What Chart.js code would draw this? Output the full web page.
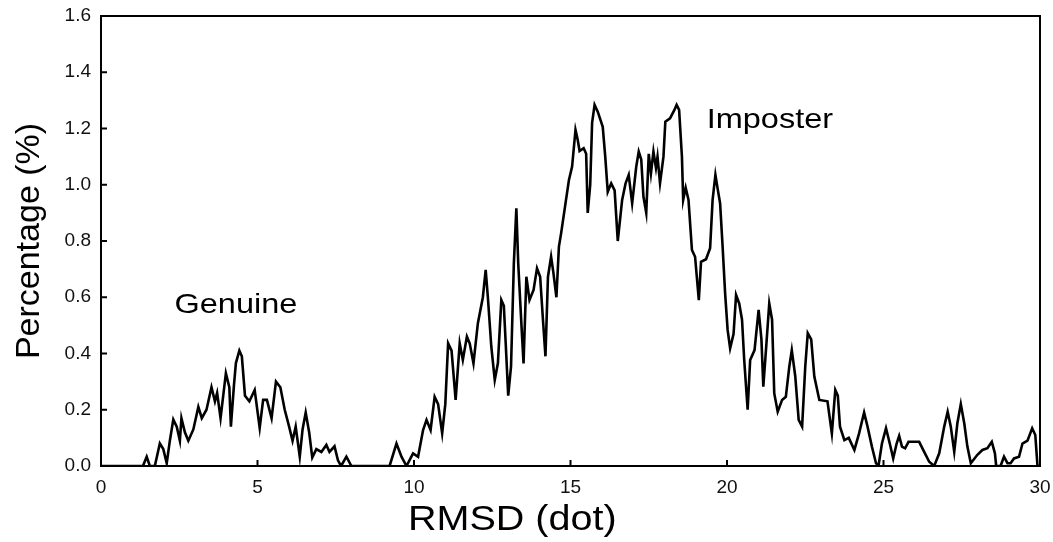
<!DOCTYPE html>
<html>
<head>
<meta charset="utf-8">
<script src="https://cdn.jsdelivr.net/npm/chart.js@4/dist/chart.umd.min.js"></script>
<style>
  html, body { margin: 0; padding: 0; background: #fff; }
  #wrap { width: 1053px; height: 542px; }
</style>
</head>
<body>
<div id="wrap"><canvas id="rmsd-chart"></canvas></div>
<script>
// RMSD (dot) values and percentage
const genuineX = [
    0, 1.34, 1.46, 1.56, 1.72, 1.88, 1.99, 2.1, 2.2, 2.31,
    2.42, 2.52, 2.57, 2.68, 2.79, 2.95, 3.11, 3.22, 3.37, 3.53,
    3.64, 3.71, 3.82, 3.99, 4.1, 4.15, 4.25, 4.31, 4.42, 4.5,
    4.6, 4.74, 4.91, 5.07, 5.18, 5.3, 5.45, 5.59, 5.73, 5.87,
    6.01, 6.12, 6.22, 6.35, 6.44, 6.54, 6.65, 6.75, 6.88, 7.04,
    7.2, 7.3, 7.46, 7.57, 7.67, 7.84, 8.0, 8.6
];
const genuineY = [
    0, 0, 0.033, 0, 0, 0.08, 0.06, 0.01, 0.09, 0.165,
    0.14, 0.09, 0.17, 0.12, 0.09, 0.13, 0.21, 0.17, 0.2, 0.28,
    0.23, 0.26, 0.17, 0.33, 0.28, 0.14, 0.29, 0.366, 0.41, 0.39,
    0.25, 0.23, 0.27, 0.135, 0.235, 0.235, 0.17, 0.3, 0.28, 0.2,
    0.14, 0.09, 0.14, 0.033, 0.13, 0.19, 0.12, 0.03, 0.06, 0.05,
    0.075, 0.05, 0.07, 0.02, 0, 0.033, 0, 0
];

const imposterX = [
    8.6, 9.22, 9.44, 9.6, 9.76, 9.97, 10.13, 10.29, 10.4, 10.53,
    10.66, 10.77, 10.9, 11.0, 11.09, 11.2, 11.33, 11.46, 11.56, 11.69,
    11.78, 11.9, 12.04, 12.2, 12.29, 12.36, 12.47, 12.58, 12.68, 12.79,
    12.87, 12.93, 13.01, 13.1, 13.19, 13.27, 13.33, 13.43, 13.5, 13.59,
    13.69, 13.82, 13.93, 14.03, 14.12, 14.2, 14.28, 14.38, 14.45, 14.55,
    14.63, 14.7, 14.84, 14.95, 15.05, 15.16, 15.23, 15.29, 15.42, 15.5,
    15.55, 15.63, 15.69, 15.77, 15.87, 16.03, 16.11, 16.19, 16.3, 16.41,
    16.51, 16.65, 16.76, 16.86, 16.97, 17.1, 17.18, 17.26, 17.33, 17.42,
    17.5, 17.57, 17.65, 17.73, 17.78, 17.86, 17.97, 18.03, 18.18, 18.32,
    18.39, 18.47, 18.56, 18.6, 18.68, 18.77, 18.88, 18.98, 19.1, 19.17,
    19.33, 19.46, 19.54, 19.63, 19.71, 19.78, 19.86, 19.94, 20.02, 20.1,
    20.21, 20.29, 20.39, 20.48, 20.55, 20.66, 20.74, 20.88, 21.01, 21.1,
    21.16, 21.25, 21.35, 21.44, 21.51, 21.62, 21.76, 21.88, 21.99, 22.07,
    22.18, 22.29, 22.4, 22.5, 22.58, 22.69, 22.79, 22.95, 23.21, 23.35,
    23.46, 23.54, 23.61, 23.75, 23.89, 24.07, 24.22, 24.38, 24.49, 24.63,
    24.76, 24.84, 24.95, 25.08, 25.2, 25.31, 25.42, 25.5, 25.59, 25.69,
    25.8, 26.14, 26.3, 26.46, 26.62, 26.78, 26.94, 27.05, 27.15, 27.26,
    27.36, 27.47, 27.58, 27.68, 27.79, 28.0, 28.16, 28.32, 28.46, 28.56,
    28.6, 28.74, 28.85, 28.96, 29.06, 29.17, 29.33, 29.44, 29.6, 29.75,
    29.85, 29.92, 30
];
const imposterY = [
    0, 0, 0.08, 0.033, 0, 0.045, 0.033, 0.128, 0.164, 0.128,
    0.246, 0.22, 0.116, 0.22, 0.436, 0.41, 0.235, 0.436, 0.377, 0.46,
    0.436, 0.365, 0.507, 0.6, 0.697, 0.6, 0.424, 0.306, 0.365, 0.59,
    0.57, 0.436, 0.25, 0.354, 0.72, 0.916, 0.72, 0.507, 0.365, 0.673,
    0.59, 0.626, 0.703, 0.673, 0.52, 0.39, 0.673, 0.744, 0.69, 0.6,
    0.78, 0.827, 0.934, 1.017, 1.064, 1.195, 1.16, 1.12, 1.13, 1.11,
    0.9, 1.0, 1.22, 1.284, 1.26, 1.206, 1.1, 0.975, 1.005, 0.98,
    0.8, 0.946, 1.005, 1.035, 0.934, 1.064, 1.118, 1.09, 0.958, 0.9,
    1.11, 1.04, 1.118, 1.06, 1.1, 1.005, 1.1, 1.224, 1.236, 1.266,
    1.284, 1.266, 1.1, 0.946, 0.99, 0.946, 0.768, 0.744, 0.59, 0.726,
    0.735, 0.774, 0.946, 1.035, 0.98, 0.934, 0.78, 0.614, 0.484, 0.418,
    0.47, 0.608, 0.578, 0.52, 0.377, 0.2, 0.377, 0.412, 0.555, 0.45,
    0.282, 0.42, 0.578, 0.52, 0.258, 0.193, 0.235, 0.246, 0.353, 0.412,
    0.32, 0.164, 0.14, 0.353, 0.472, 0.45, 0.318, 0.235, 0.23, 0.116,
    0.27, 0.25, 0.14, 0.092, 0.1, 0.057, 0.116, 0.19, 0.14, 0.069,
    0.01, 0, 0.08, 0.134, 0.08, 0.027, 0.08, 0.107, 0.069, 0.063,
    0.086, 0.086, 0.05, 0.015, 0, 0.045, 0.14, 0.193, 0.14, 0.05,
    0.152, 0.22, 0.152, 0.069, 0.01, 0.04, 0.057, 0.063, 0.086, 0.045,
    0, 0, 0.033, 0.01, 0.01, 0.027, 0.033, 0.08, 0.09, 0.134,
    0.11, 0, 0
];

// label positions in data units
const labels = [
    { text: 'Genuine', x: 4.31, y: 0.57 },
    { text: 'Imposter', x: 21.37, y: 1.23 }
];
const xTitle = 'RMSD (dot)';

const fontFamily = '"Liberation Sans", Arial, Helvetica, sans-serif';

function toPoints(xs, ys) {
    return xs.map((x, i) => ({ x: x, y: ys[i] }));
}

// text in the original is a little wider than Arial, so stretch it sideways
function wideText(ctx, text, cx, cy, stretch) {
    ctx.save();
    ctx.translate(cx, cy);
    ctx.scale(stretch, 1);
    ctx.fillText(text, 0, 0);
    ctx.restore();
}

// frame with inward ticks on left and bottom, plus the text labels
const framePlugin = {
    id: 'frame',
    afterDraw(chart) {
        const ctx = chart.ctx;
        const area = chart.chartArea;
        const xs = chart.scales.x;
        const ys = chart.scales.y;
        ctx.save();
        ctx.strokeStyle = '#000';
        ctx.lineWidth = 2;
        ctx.strokeRect(area.left, area.top, area.right - area.left, area.bottom - area.top);

        ctx.beginPath();
        ys.ticks.forEach(t => {
            const py = ys.getPixelForValue(t.value);
            ctx.moveTo(area.left, py);
            ctx.lineTo(area.left + 6, py);
        });
        xs.ticks.forEach(t => {
            const px = xs.getPixelForValue(t.value);
            ctx.moveTo(px, area.bottom);
            ctx.lineTo(px, area.bottom - 6);
        });
        ctx.stroke();

        ctx.fillStyle = '#000';
        ctx.textAlign = 'center';
        ctx.textBaseline = 'middle';
        ctx.font = '28px ' + fontFamily;
        labels.forEach(l => {
            wideText(ctx, l.text, xs.getPixelForValue(l.x), ys.getPixelForValue(l.y), 1.16);
        });

        // x axis title sits a bit left of centre in the original
        ctx.font = '35px ' + fontFamily;
        ctx.textBaseline = 'alphabetic';
        wideText(ctx, xTitle, area.left + (area.right - area.left) * 0.438, area.bottom + 64, 1.13);
        ctx.restore();
    }
};

const ctx = document.getElementById('rmsd-chart').getContext('2d');
const rmsdChart = new Chart(ctx, {
    type: 'line',
    data: {
        datasets: [
            {
                label: 'Genuine',
                data: toPoints(genuineX, genuineY),
                borderColor: '#000',
                borderWidth: 2.6,
                pointRadius: 0,
                tension: 0
            },
            {
                label: 'Imposter',
                data: toPoints(imposterX, imposterY),
                borderColor: '#000',
                borderWidth: 2.6,
                pointRadius: 0,
                tension: 0
            }
        ]
    },
    options: {
        responsive: true,
        maintainAspectRatio: false,
        animation: false,
        layout: {
            padding: { top: 16, right: 13, left: 0, bottom: 0 }
        },
        scales: {
            x: {
                type: 'linear',
                min: 0,
                max: 30,
                grid: { display: false },
                border: { display: false },
                ticks: {
                    stepSize: 5,
                    padding: 2,
                    color: '#111',
                    font: { family: fontFamily, size: 19 },
                    maxRotation: 0
                },
                afterFit(scale) { scale.height = 76; }
            },
            y: {
                min: 0,
                max: 1.6,
                grid: { display: false },
                border: { display: false },
                ticks: {
                    stepSize: 0.2,
                    padding: 2,
                    color: '#111',
                    font: { family: fontFamily, size: 19 },
                    callback: function(value) { return value.toFixed(1); }
                },
                title: {
                    display: true,
                    text: 'Percentage (%)',
                    color: '#000',
                    font: { family: fontFamily, size: 34 },
                    padding: { top: 9, bottom: 0 }
                },
                afterFit(scale) { scale.width = 101; }
            }
        },
        plugins: {
            legend: { display: false },
            tooltip: { enabled: false }
        }
    },
    plugins: [framePlugin]
});
</script>
</body>
</html>
